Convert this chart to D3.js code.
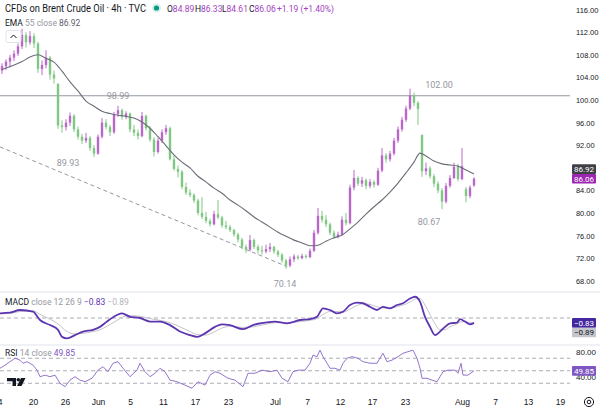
<!DOCTYPE html>
<html><head><meta charset="utf-8">
<script src="https://cdn.jsdelivr.net/npm/d3@7"></script>
<style>html,body{margin:0;padding:0;background:#fff;overflow:hidden}svg{display:block;font-family:Roboto,"Noto Sans",sans-serif}</style>
</head><body><svg id="c" width="600" height="410"></svg>
<script>
// ---------- DATA ----------
const candleOpen = [105.2,106.0,106.8,107.5,108.2,109.5,111.5,110.2,111.3,110.0,
105.5,106.2,107.5,104.5,102.8,95.5,95.2,96.0,97.2,94.8,
93.5,92.8,93.3,91.5,90.5,93.5,96.0,95.2,94.3,97.5,
98.2,97.0,97.6,94.8,94.2,93.6,97.2,95.0,93.0,90.8,
92.8,94.3,95.0,89.5,87.8,87.3,84.6,83.6,83.2,82.2,
80.0,79.3,78.6,78.0,79.8,79.2,77.8,77.5,77.0,76.2,
75.3,74.0,73.5,75.2,74.0,73.4,73.2,73.6,74.0,73.2,
72.6,71.6,70.7,71.8,72.3,72.0,72.4,72.2,73.3,76.5,
79.5,78.8,78.0,76.5,75.8,76.2,78.8,78.2,84.5,86.2,
85.2,85.8,84.8,85.5,85.0,87.5,90.2,89.5,90.5,92.8,
94.8,96.5,98.5,100.8,99.5,93.8,87.4,87.9,86.5,85.2,
84.0,82.0,84.8,86.2,88.2,86.0,84.2,83.0,84.89];
const candleHigh = [106.5,107.2,108.0,108.8,110.0,112.6,112.0,112.2,111.8,110.3,
107.0,108.8,107.8,105.2,103.0,96.4,96.6,97.8,97.5,95.3,
94.0,94.2,93.6,92.0,93.9,96.8,96.6,95.6,97.9,98.99,
98.5,98.0,97.8,95.6,94.8,97.9,97.4,95.4,93.4,93.3,
94.8,95.6,95.3,90.2,88.4,87.6,85.4,84.2,83.5,82.5,
82.8,80.2,79.0,80.4,82.3,79.5,78.6,77.9,77.2,76.5,
75.6,74.4,76.1,75.5,74.4,74.2,74.4,74.7,74.2,73.5,
72.9,71.9,72.3,72.7,72.6,72.8,72.7,73.7,77.0,80.9,
80.4,79.6,78.3,76.9,76.7,79.4,80.0,85.0,87.6,86.5,
86.4,86.1,86.0,85.8,88.0,91.5,90.6,91.0,93.3,95.3,
97.0,99.0,102.0,101.3,99.8,93.9,88.9,88.3,86.9,85.6,
84.4,85.3,86.7,88.9,88.7,91.5,84.6,84.9,86.33];
const candleLow = [104.6,105.3,105.8,106.9,107.8,109.0,109.3,109.8,109.2,104.8,
104.4,105.6,103.6,102.9,94.9,94.2,94.6,95.4,94.3,93.0,
92.2,92.4,91.0,89.93,90.3,93.2,94.8,93.6,94.0,97.0,
96.5,96.6,94.3,93.6,93.0,93.4,94.6,92.6,90.0,90.5,
92.4,93.8,89.3,87.5,86.3,84.2,83.2,82.8,81.8,79.6,
78.9,78.2,77.6,77.8,78.9,77.4,77.1,76.6,75.8,74.8,
73.6,72.9,73.2,73.6,72.8,72.6,72.9,73.1,72.8,72.2,
71.2,70.14,70.4,71.3,71.7,71.8,71.9,72.0,73.1,76.2,
78.3,77.5,76.1,75.4,75.5,76.0,77.8,78.0,84.0,84.8,
84.6,84.2,84.4,84.5,84.8,87.2,88.9,89.1,90.2,92.4,
94.4,96.1,98.2,98.9,95.6,86.4,86.7,86.1,84.6,83.5,
80.67,81.7,84.5,86.0,85.6,85.8,81.9,82.6,84.61];
const candleClose = [106.0,106.8,107.5,108.2,109.5,111.5,110.2,111.3,110.0,105.5,
106.2,107.5,104.5,103.8,95.5,95.2,96.0,97.2,94.8,93.5,
92.8,93.3,91.5,90.5,93.5,96.0,95.2,94.3,97.5,98.2,
97.0,97.6,94.8,94.2,93.6,97.2,95.0,93.0,90.8,92.8,
94.3,95.0,89.5,87.8,87.3,84.6,83.6,83.2,82.2,80.0,
79.3,78.6,78.0,79.8,79.2,77.8,77.5,77.0,76.2,75.3,
74.0,73.5,75.2,74.0,73.4,73.2,73.6,74.0,73.2,72.6,
71.6,70.7,71.8,72.3,72.0,72.4,72.2,73.3,76.5,79.5,
78.8,78.0,76.5,75.8,76.2,78.8,78.2,84.5,86.2,85.2,
85.8,84.8,85.5,85.0,87.5,90.2,89.5,90.5,92.8,94.8,
96.5,98.5,100.8,99.5,98.4,87.4,87.9,86.5,85.2,84.0,
82.0,84.8,86.2,88.2,86.0,88.3,83.0,84.5,86.06];

const emaBars = [0,5,7,9,11,13,15,17,19,21,23,25,27,29,31,33,35,37,39,41,43,45,47,49,51,53,55,57,59,61,63,65,67,69,71,73,75,77,79,81,83,85,87,89,91,93,95,97,99,101,103,104.5,106,108,110,112,114,116,118];
const emaVals = [105.4,106.8,107.6,108.0,107.4,106.7,105.1,103.2,101.6,99.8,98.9,98.0,97.6,97.3,97.1,96.8,96.1,95.0,93.5,91.9,90.3,89.0,88.0,86.5,85.5,84.4,83.5,82.3,81.4,80.4,79.3,78.4,77.5,76.6,75.9,75.2,74.7,74.2,74.3,75.0,75.6,76.1,77.2,78.4,79.8,81.1,82.3,83.7,85.3,87.1,89.0,90.6,90.1,89.2,88.7,88.5,88.3,87.6,86.92];

const macdBars = [-0.5,2,4.5,7.75,9.5,12,14,15,16.25,18.25,20.25,22.75,24.5,26.25,28.75,30,32,34.5,37,39.5,42,44.5,47,48.75,50.75,53.25,55,57,60.25,62.75,65.75,68.25,71.25,74.5,77,78.75,80.25,82,83.75,85.25,87,88.75,90.25,92,93.75,95.25,97,98.75,100.25,102,103.25,104.5,105.75,107,108.25,109.5,110.75,112,113.75,114.5,115.75,117,118];
const macdVals = [0.8,0.9,1.36,1.07,-0.34,-1.2,-2.0,-3.2,-3.45,-2.9,-2.3,-2.0,-1.5,-0.6,0.5,0.8,0.2,0,-0.6,-0.6,-1.2,-2.3,-2.9,-3.2,-2.6,-1.5,-1.07,-1.2,-1.9,-1.2,-0.8,-0.6,-0.9,-0.34,-0.2,0.2,1.64,1.36,0.8,1.07,2.2,2.6,2.5,1.9,1.36,1.9,1.64,2.2,2.5,3.3,3.6,2.76,0.2,-1.5,-2.9,-2.3,-1.5,-0.9,-0.8,-0.2,-0.6,-1.07,-0.83];
const signalVals = [0.7,0.8,1.1,1.2,0.6,-0.2,-1.0,-1.6,-2.3,-2.7,-2.6,-2.3,-2.0,-1.4,-0.4,0.1,0.4,0.3,-0.1,-0.4,-0.8,-1.5,-2.3,-2.8,-2.9,-2.3,-1.7,-1.4,-1.6,-1.5,-1.1,-0.8,-0.8,-0.6,-0.4,-0.1,0.6,1.1,1.1,1.0,1.5,2.1,2.4,2.3,1.9,1.7,1.7,1.9,2.2,2.7,3.2,3.3,2.2,0.6,-1.0,-2.0,-2.0,-1.5,-1.0,-0.7,-0.6,-0.8,-0.89];

const rsiBars = [-0.5,0.75,2,3.25,4.5,5.25,6.25,7.75,8.75,9.5,10.75,12,13.25,14.5,15.75,17,18.25,19.5,20.75,22.5,24,25.25,26.5,27.75,29,30.25,32,33.75,34.5,35.75,37,38.25,39.5,40.75,42,43.75,45.75,47.5,49,50.75,52,53.25,54.5,56.5,58.25,60.25,61.5,63.25,65,67,68.75,70,71.5,72.75,74,75.75,77,77.75,78.75,79.5,80.25,81.25,82,83.25,84.5,85.25,86.25,87.5,89,90.25,92,93.75,94.5,95.25,96.25,97.5,99,100.25,101.5,102.75,103.75,104.5,105,106.25,107.5,108.75,109.5,110.25,111.5,113.25,114,114.75,115.25,116.5,118];
const rsiVals = [53.9,59,64.5,70,67,62,64.5,59,51,40.5,43,40.5,43,30,24.5,35,40.5,35,32.5,38,51,56.5,48.5,62,64.5,54,40.5,51,62,48.5,40.5,46,54,48.5,35,32.5,27,22,32.5,27,43,48.5,46,38,35,24.5,46,46,51,48.5,51,38,32.5,48.5,51,51,62,75,72.5,83,72.5,62,54,54,51,62,70,72.5,70,64.5,62,62,70,78,64.5,67,72.5,78,80.5,83,70,54,38,38,35,32.5,40.5,48.5,51,51,46,62,43,43,49.85];

const xTickBars = [-1.2,7.75,15.75,24,32,40.25,48.25,56.5,68.25,76.25,84.5,92.5,100.75,115,123.25,131.5,139.5];
const xTickLabels = ["14","20","26","Jun","5","11","17","23","Jul","7","12","17","23","Aug","7","13","19"];
const priceTicks = [68,72,76,80,84,92,96,100,104,108,112,116];
const macdTicks = [4,0,-4];
const rsiTicks = [80,40];
const rsiLevels = [70,50,30];

const hLevel = 100.75;
const trendBars = [-0.5,71.3];
const trendPrices = [91.7,70.5];
const noteText = ["98.99","89.93","102.00","80.67","70.14"];
const noteBars = [29,16.5,109.25,106.75,70.75];
const notePrices = [100.75,88.85,102.65,78.4,67.45];

// ---------- CHART ----------
const svg = d3.select("#c");
const plotR = 570;
const x = d3.scaleLinear().domain([0,118]).range([2,474]);
const yP = d3.scaleLinear().domain([68,116]).range([280.8,9.6]);
const yM = d3.scaleLinear().domain([-4,4]).range([341.6,294.4]);
const yR = d3.scaleLinear().domain([40,80]).range([377,352]);
const UP="#ba68c8", DN="#81c784", TXT="#131722", GRAY="#9598a1", VAL="#a43fc0";

const defs = svg.append("defs");
[["cMain",0,0,plotR,292],["cMacd",0,292,plotR,53],["cRsi",0,345,plotR,48],
 ["cMacdAx",570,292,30,53]].forEach(c=>{
  defs.append("clipPath").attr("id",c[0]).append("rect").attr("x",c[1]).attr("y",c[2]).attr("width",c[3]).attr("height",c[4]);
});

// separators
[292,345].forEach(yy=>svg.append("line").attr("x1",0).attr("x2",600).attr("y1",yy).attr("y2",yy).attr("stroke","#e0e3eb").attr("stroke-width",1));

// main panel
const gMain = svg.append("g").attr("clip-path","url(#cMain)");
gMain.append("line").attr("x1",0).attr("x2",plotR).attr("y1",yP(hLevel)).attr("y2",yP(hLevel))
  .attr("stroke",GRAY).attr("stroke-width",1);
gMain.append("line").attr("x1",x(trendBars[0])).attr("y1",yP(trendPrices[0]))
  .attr("x2",x(trendBars[1])).attr("y2",yP(trendPrices[1]))
  .attr("stroke",GRAY).attr("stroke-width",1).attr("stroke-dasharray","4,3");

const idx = d3.range(candleClose.length);
const cg = gMain.append("g");
cg.selectAll("line.w").data(idx).join("line").attr("class","w")
  .attr("x1",i=>x(i)).attr("x2",i=>x(i))
  .attr("y1",i=>yP(candleHigh[i])).attr("y2",i=>yP(candleLow[i]))
  .attr("stroke",i=>candleClose[i]>=candleOpen[i]?UP:DN).attr("stroke-width",1);
cg.selectAll("rect").data(idx).join("rect")
  .attr("x",i=>x(i)-1.2).attr("width",2.4)
  .attr("y",i=>yP(Math.max(candleOpen[i],candleClose[i])))
  .attr("height",i=>Math.max(1,Math.abs(yP(candleOpen[i])-yP(candleClose[i]))))
  .attr("fill",i=>candleClose[i]>=candleOpen[i]?UP:DN);

gMain.append("path").datum(emaBars.map((b,i)=>[b,emaVals[i]]))
  .attr("d",d3.line().x(d=>x(d[0])).y(d=>yP(d[1])).curve(d3.curveMonotoneX))
  .attr("fill","none").attr("stroke","#6a6d78").attr("stroke-width",1.1);

gMain.selectAll("text.note").data(noteText).join("text").attr("class","note")
  .attr("x",(d,i)=>x(noteBars[i])).attr("y",(d,i)=>yP(notePrices[i])+3)
  .attr("text-anchor","middle").attr("font-size",9).attr("fill",GRAY).text(d=>d);

// legend line helper: one text, natural-width tspans
function legend(xx, yy, parts, fs){
  const t = svg.append("text").attr("x",xx).attr("y",yy).attr("font-size",fs);
  parts.forEach(p=>t.append("tspan").attr("fill",p[1]).text(p[0]));
  return t;
}

// header
legend(5,12,[["CFDs on Brent Crude Oil \u00b7 4h \u00b7 TVC",TXT]],10.5)
  .attr("textLength",141).attr("lengthAdjust","spacingAndGlyphs");
svg.append("circle").attr("cx",156.5).attr("cy",8).attr("r",4.5).attr("fill","#d7f0ea");
svg.append("circle").attr("cx",156.5).attr("cy",8).attr("r",2.6).attr("fill","#089981");
[["O","84.89",167],["H","86.33",195],["L","84.61",222],["C","86.06",249]].forEach(p=>{
  legend(p[2],12,[[p[0],TXT],[p[1],VAL]],8.5);
});
legend(277,12,[["+1.19 (+1.40%)",VAL]],8.5);

legend(5,26,[["EMA ",TXT],["55 close ",GRAY],["86.92","#5d606b"]],8.5);
// collapse button
svg.append("rect").attr("x",6).attr("y",30.5).attr("width",15).attr("height",12).attr("rx",2)
  .attr("fill","#fff").attr("stroke","#e0e3eb");
svg.append("path").attr("d","M10.5,38 L13.5,35 L16.5,38").attr("fill","none").attr("stroke",TXT).attr("stroke-width",1);

// price axis
const ax = svg.append("g").attr("transform","translate(575,0)")
  .call(d3.axisRight(yP).tickValues(priceTicks).tickFormat(d=>d.toFixed(2)).tickSize(0).tickPadding(1));
ax.select(".domain").remove();
ax.selectAll("text").attr("font-size",8).attr("fill",TXT).attr("font-family",null)
  .attr("textLength",d=>d>=100?22.5:18.5).attr("lengthAdjust","spacingAndGlyphs");

function valBox(yc, txt, fill, col){
  const g = svg.append("g");
  g.append("rect").attr("x",572).attr("y",yc-4.8).attr("width",24).attr("height",9.6).attr("rx",1).attr("fill",fill);
  g.append("text").attr("x",584).attr("y",yc+3).attr("text-anchor","middle").attr("font-size",8).attr("fill",col).text(txt);
}
valBox(yP(candleClose[118]), "86.06", "#9c27b0", "#fff");
valBox(yP(candleClose[118])-9.6, "86.92", "#3f4045", "#fff");

// MACD panel
const gM = svg.append("g").attr("clip-path","url(#cMacd)");
gM.append("line").attr("x1",0).attr("x2",plotR).attr("y1",yM(0)).attr("y2",yM(0))
  .attr("stroke",GRAY).attr("stroke-width",0.8).attr("stroke-dasharray","4,3");
gM.append("path").datum(macdBars.map((b,i)=>[b,signalVals[i]]))
  .attr("d",d3.line().x(d=>x(d[0])).y(d=>yM(d[1])).curve(d3.curveMonotoneX))
  .attr("fill","none").attr("stroke","#c3c5cc").attr("stroke-width",1);
gM.append("path").datum(macdBars.map((b,i)=>[b,macdVals[i]]))
  .attr("d",d3.line().x(d=>x(d[0])).y(d=>yM(d[1])).curve(d3.curveMonotoneX))
  .attr("fill","none").attr("stroke","#5e35b1").attr("stroke-width",1.8);
legend(5,305,[["MACD ",TXT],["close 12 26 9 ",GRAY],["\u22120.83 ","#5e35b1"],["\u22120.89","#b2b5be"]],8.5);
const axM = svg.append("g").attr("transform","translate(575,0)").attr("clip-path","url(#cMacdAx)")
  .call(d3.axisRight(yM).tickValues(macdTicks).tickFormat(d=>(d<0?"\u2212":"")+Math.abs(d).toFixed(2)).tickSize(0).tickPadding(1));
axM.select(".domain").remove();
axM.selectAll("text").attr("font-size",8).attr("fill",TXT).attr("font-family",null);
valBox(yM(macdVals[macdVals.length-1]), "\u22120.83", "#4527a0", "#fff");
valBox(yM(macdVals[macdVals.length-1])+9.6, "\u22120.89", "#c4c6cc", TXT);

// RSI panel
const gR = svg.append("g").attr("clip-path","url(#cRsi)");
gR.selectAll("line").data(rsiLevels).join("line")
  .attr("x1",0).attr("x2",plotR).attr("y1",d=>yR(d)).attr("y2",d=>yR(d))
  .attr("stroke",GRAY).attr("stroke-width",0.8).attr("stroke-dasharray","4,3");
gR.append("path").datum(rsiBars.map((b,i)=>[b,rsiVals[i]]))
  .attr("d",d3.line().x(d=>x(d[0])).y(d=>yR(d[1])))
  .attr("fill","none").attr("stroke","#9575cd").attr("stroke-width",1);
legend(5,356,[["RSI ",TXT],["14 close ",GRAY],["49.85","#7e57c2"]],8.5);
const axR = svg.append("g").attr("transform","translate(575,0)")
  .call(d3.axisRight(yR).tickValues(rsiTicks).tickFormat(d=>d.toFixed(2)).tickSize(0).tickPadding(1));
axR.select(".domain").remove();
axR.selectAll("text").attr("font-size",8).attr("fill",TXT).attr("font-family",null);
valBox(yR(rsiVals[rsiVals.length-1]), "49.85", "#7e57c2", "#fff");

// TradingView logo
const logo = svg.append("g").attr("fill",TXT);
logo.append("path").attr("d","M7,378 H16 V386 H12.5 V381.3 H7 Z");
logo.append("circle").attr("cx",18.3).attr("cy",379.8).attr("r",1.8);
logo.append("path").attr("d","M21,378 H25.5 L21.5,386 H17 Z");

// x axis
const axX = svg.append("g")
  .call(d3.axisBottom(x).tickValues(xTickBars).tickFormat((d,i)=>xTickLabels[i]).tickSize(0));
axX.select(".domain").remove();
axX.selectAll("text").attr("y",405).attr("dy",0).attr("font-size",8.5).attr("fill",TXT).attr("font-family",null);

// settings gear
svg.append("circle").attr("cx",589).attr("cy",402).attr("r",4.6).attr("fill","none").attr("stroke",TXT).attr("stroke-width",1);
svg.append("circle").attr("cx",589).attr("cy",402).attr("r",1.8).attr("fill","none").attr("stroke",TXT).attr("stroke-width",1);
</script></body></html>
